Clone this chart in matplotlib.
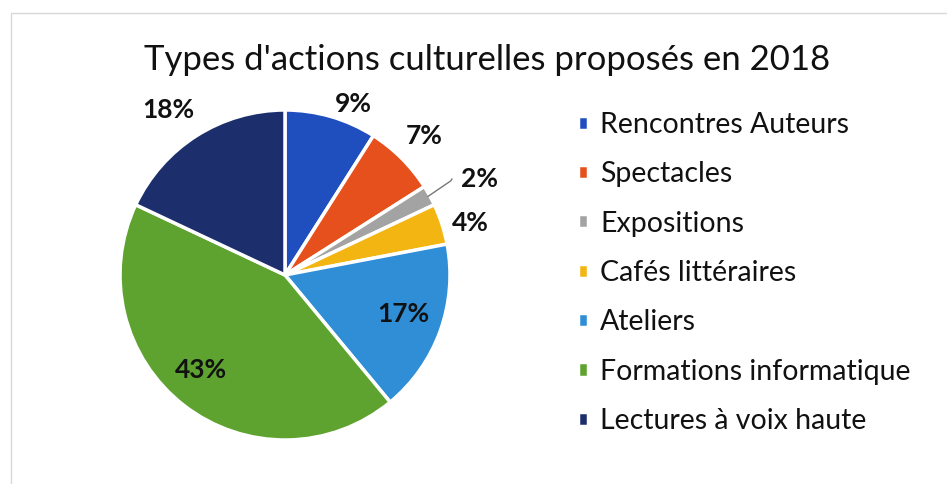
import matplotlib.pyplot as plt
import matplotlib.patches as mpatches
import numpy as np

categories = ['Rencontres Auteurs', 'Spectacles', 'Expositions', 'Cafés littéraires',
              'Ateliers', 'Formations informatique', 'Lectures à voix haute']
values = [9, 7, 2, 4, 17, 43, 18]
pct_labels = ['9%', '7%', '2%', '4%', '17%', '43%', '18%']
colors = ['#1f4fbf', '#e6501c', '#a3a3a3', '#f3b512', '#2f8ed6', '#5ea32f', '#1c2f6c']
# label placement: radius and angle shift (deg) from the slice middle
label_r = [1.115, 1.19, 1.317, 1.165, 0.753, 0.768, 1.226]
label_shift = [-5.5, 0, -2.6, -2.3, 1.5, -3.7, 2.9]

plt.rcParams['font.family'] = ['Lato', 'DejaVu Sans']

fig = plt.figure(figsize=(9.47, 4.84), dpi=100)
fig.patch.set_facecolor('white')

# faint frame of the scanned chart
fig.add_artist(mpatches.Rectangle((11 / 947, -0.1), 1.2, (484 - 13) / 484 + 0.1,
                                  transform=fig.transFigure, fill=False,
                                  edgecolor='#d8d8d8', linewidth=1))

ax = fig.add_axes([54 / 947, -22 / 484, 462 / 947, 462 / 484])
wedges, _ = ax.pie(values, colors=colors, startangle=90, counterclock=False,
                   wedgeprops=dict(edgecolor='white', linewidth=2.5))
ax.set_xlim(-1.4, 1.4)
ax.set_ylim(-1.4, 1.4)
ax.set_aspect('equal')
ax.axis('off')

for w, lab, r, sh in zip(wedges, pct_labels, label_r, label_shift):
    mid = np.deg2rad((w.theta1 + w.theta2) / 2)
    ang = mid + np.deg2rad(sh)
    x, y = r * np.cos(ang), r * np.sin(ang)
    ax.text(x, y, lab, ha='center', va='center', fontsize=19, fontweight='bold',
            color='#111111')
    if lab == '2%':
        ax.plot([0.99 * np.cos(mid), 1.1 * np.cos(mid) + 0.04, x - 0.17],
                [0.99 * np.sin(mid), 1.1 * np.sin(mid) + 0.04, y],
                color='#777777', linewidth=1)

fig.text(487 / 947, 1 - 60 / 484, "Types d'actions culturelles proposés en 2018",
         ha='center', va='center', fontsize=25, color='#111111')

fig.legend(wedges, categories, loc='center left',
           bbox_to_anchor=(552 / 947, 1 - 273 / 484), frameon=False,
           fontsize=20.5, handlelength=0.38, handleheight=0.38,
           handletextpad=0.42, labelspacing=0.82, labelcolor='#111111')

fig.savefig('out.png', dpi=100, facecolor='white')
